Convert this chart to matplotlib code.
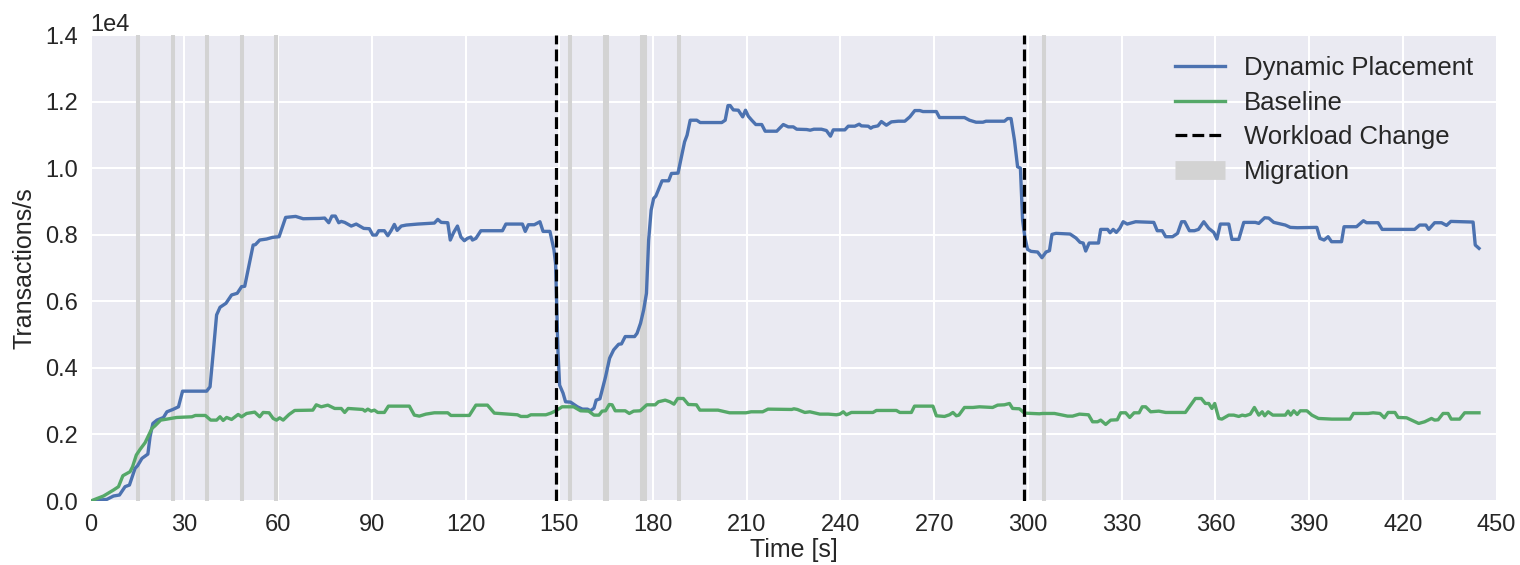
import matplotlib
matplotlib.use("Agg")
import matplotlib.pyplot as plt
from matplotlib.lines import Line2D

# ---------------- data ----------------
dyn_t = [0, 2, 5.2, 7.3, 9.2, 11.0, 12.4, 14.2, 15, 16.4, 18.3, 19.0, 19.9, 21.2, 23.3, 24.4, 26.3, 28.1,
         29.4, 37.1, 38.2, 39.3, 40.3, 41.4, 43.3, 45.1, 46.9, 48.3, 49.3, 52.0, 52.7, 54.1, 56.3, 58.2,
         60.3, 62.4, 65.6, 68.0, 73.3, 74.9, 76.2, 77.2, 78.3, 79.4, 80.2, 81.3, 83.4, 85.0, 86.1, 87.4,
         89.2, 90.3, 91.4, 92.2, 94.0, 95.1, 96.2, 97.2, 98.1, 99.4, 101.0, 104.7, 110.0, 111.1, 112.2,
         114.3, 115.1, 116.2, 117.4, 118.5, 119.6, 120.6, 121.7, 122.2, 123.3, 124.9, 131.8, 132.9, 138.2,
         139.1, 140.1, 142.0, 143.8, 144.8, 147.0, 148.3, 148.8, 149.6, 150.1, 151.2, 152.0, 153.6, 155.8,
         157.4, 159.0, 160.0, 161.1, 161.8, 163.0, 164.8, 166.1, 167.4, 169.0, 169.9, 171.1, 174.1, 174.9,
         176.0, 177.0, 177.9, 178.6, 179.4, 180.2, 180.9, 182.9, 185.0, 185.9, 188.0, 189.3, 190.1, 190.9,
         191.9, 194.0, 195.1, 202.0, 203.1, 204.0, 204.7, 205.7, 207.3, 208.7, 209.6, 210.5, 211.6, 212.9,
         214.8, 215.9, 219.6, 221.7, 223.3, 224.9, 226.0, 229.2, 230.3, 231.5, 233.9, 235.5, 236.8, 237.7,
         241.4, 242.5, 244.6, 246.0, 246.7, 248.9, 249.7, 250.4, 252.0, 253.1, 254.7, 256.3, 258.5, 260.6,
         262.2, 263.8, 265.4, 266.4, 270.7, 271.7, 279.7, 281.3, 283.4, 285.6, 286.6, 292.5, 293.5, 294.6,
         295.7, 296.7, 297.6, 298.3, 299.0, 299.9, 301.0, 303.1, 304.5, 305.8, 306.9, 307.7, 309.0, 313.5,
         315.4, 316.7, 317.7, 318.5, 319.6, 322.6, 323.3, 325.5, 326.3, 327.3, 328.3, 329.4, 330.5, 331.8,
         334.5, 340.3, 341.4, 343.0, 344.1, 346.3, 347.9, 349.2, 350.2, 351.7, 353.3, 354.6, 356.3, 357.9,
         359.5, 360.5, 361.6, 364.3, 365.3, 367.5, 369.1, 372.8, 373.9, 375.8, 377.1, 378.7, 382.4, 384.0,
         386.2, 392.5, 393.5, 394.8, 396.1, 397.2, 400.4, 401.2, 405.2, 407.4, 408.4, 412.1, 413.4, 423.8,
         425.4, 427.4, 428.3, 430.2, 432.4, 434.0, 435.4, 442.5, 443.2, 444.4]
dyn_v = [0, 20, 50, 150, 180, 430, 480, 980, 1060, 1280, 1410, 1930, 2330, 2430, 2510, 2680, 2750, 2830,
         3300, 3300, 3430, 4540, 5590, 5820, 5940, 6190, 6240, 6440, 6450, 7690, 7700, 7840, 7870, 7920,
         7940, 8520, 8550, 8480, 8490, 8500, 8360, 8560, 8560, 8360, 8400, 8370, 8260, 8320, 8260, 8190,
         8180, 7990, 7990, 8120, 8120, 7970, 8130, 8310, 8130, 8260, 8290, 8320, 8350, 8460, 8370,
         8360, 7840, 8070, 8260, 7930, 7820, 7890, 7930, 7840, 7890, 8120, 8120, 8320, 8320,
         8100, 8300, 8300, 8390, 8100, 8100, 7540, 7140, 4440, 3480, 3240, 2980, 2970, 2830,
         2760, 2760, 2710, 2790, 3030, 3070, 3730, 4290, 4540, 4710, 4720, 4940, 4940, 5040,
         5340, 5740, 6240, 7840, 8740, 9090, 9160, 9620, 9620, 9840, 9850, 10440, 10790, 10990,
         11440, 11440, 11370, 11370, 11440, 11880, 11880, 11750, 11740, 11540, 11740, 11560, 11440, 11310,
         11310, 11110, 11110, 11310, 11240, 11240, 11170, 11160, 11140, 11170, 11170, 11130, 10960, 11150,
         11150, 11260, 11260, 11320, 11270, 11260, 11200, 11240, 11270, 11400, 11290, 11390, 11410, 11410,
         11540, 11730, 11730, 11700, 11700, 11520, 11520, 11440, 11380, 11380, 11410, 11410, 11490, 11490,
         10840, 10040, 10000, 8440, 7940, 7560, 7500, 7480, 7310, 7480, 7520, 8010, 8040, 8020,
         7900, 7770, 7750, 7510, 7750, 7750, 8160, 8160, 8060, 8160, 8070, 8190, 8390, 8320,
         8390, 8370, 8120, 8120, 7940, 7940, 8040, 8390, 8390, 8120, 8120, 8160, 8390, 8190,
         8070, 7870, 8320, 8320, 7860, 7860, 8370, 8370, 8340, 8510, 8500, 8370, 8290, 8220,
         8210, 8220, 7890, 7840, 7940, 7790, 7790, 8240, 8240, 8420, 8360, 8360, 8160, 8160,
         8290, 8290, 8160, 8360, 8360, 8280, 8400, 8380, 7690, 7590]

base_t = [0, 4.1, 7.3, 8.9, 10.3, 12.6, 13.4, 14.6, 15.8, 17.4, 19.6, 20.6, 22.4, 24.4, 27.5, 32.4, 33.5,
          36.7, 38.4, 40.3, 41.4, 42.4, 43.5, 45.1, 47.2, 48.3, 49.9, 52.5, 54.1, 55.2, 57.1, 58.4, 59.5,
          60.5, 61.6, 63.5, 65.3, 71.1, 72.2, 73.8, 75.9, 78.1, 80.2, 81.3, 82.4, 87.1, 87.8, 88.7, 89.8,
          90.8, 91.9, 94.0, 95.3, 102.0, 103.6, 105.2, 107.3, 110.0, 114.3, 115.3, 121.2, 123.3, 127.0,
          129.2, 133.4, 136.6, 137.7, 139.8, 140.9, 145.7, 147.3, 148.9, 150.9, 154.6, 156.8, 159.4, 161.1,
          162.7, 163.7, 164.8, 166.0, 166.9, 167.9, 171.1, 172.4, 173.8, 175.9, 178.0, 180.7, 181.7, 183.9,
          185.4, 186.7, 187.9, 189.7, 191.3, 193.9, 195.0, 200.8, 204.5, 209.8, 211.4, 215.1, 216.8, 224.4,
          225.1, 226.2, 228.6, 230.2, 233.4, 236.1, 238.7, 239.8, 240.9, 241.9, 243.5, 250.4, 251.5, 257.9,
          259.0, 262.7, 263.7, 269.6, 270.7, 273.3, 274.9, 276.0, 277.1, 277.9, 279.7, 282.4, 284.5, 288.7,
          290.3, 292.5, 294.1, 295.1, 297.3, 298.9, 303.7, 304.7, 308.5, 310.6, 312.7, 314.3, 316.5, 319.4,
          320.7, 322.3, 323.3, 324.9, 326.5, 328.6, 329.7, 331.3, 332.6, 334.0, 335.6, 336.6, 337.7, 339.3,
          341.9, 344.1, 350.4, 352.0, 353.6, 355.5, 356.8, 357.9, 358.9, 359.8, 361.1, 362.1, 364.3, 365.9,
          367.5, 368.6, 369.6, 371.2, 372.5, 373.9, 375.0, 375.8, 376.9, 378.4, 382.4, 383.3, 384.1, 385.1,
          386.2, 387.2, 389.3, 390.9, 393.0, 397.3, 403.1, 404.2, 408.9, 410.5, 412.7, 414.1, 415.3, 417.5,
          418.5, 421.2, 422.8, 425.1, 427.0, 429.2, 430.2, 431.3, 432.9, 434.5, 435.5, 438.2, 439.8, 444.4]
base_v = [0, 150, 330, 430, 760, 880, 1030, 1380, 1550, 1750, 2180, 2260, 2430, 2460, 2510, 2530, 2570,
          2570, 2430, 2430, 2530, 2420, 2510, 2450, 2600, 2530, 2630, 2670, 2530, 2660, 2650, 2480, 2430,
          2500, 2430, 2600, 2720, 2730, 2890, 2830, 2880, 2780, 2780, 2660, 2780, 2750, 2700, 2760, 2700,
          2730, 2660, 2660, 2850, 2850, 2580, 2550, 2610, 2650, 2650, 2570, 2570, 2880, 2880,
          2640, 2610, 2590, 2540, 2540, 2590, 2590, 2640, 2710, 2830, 2830, 2710, 2700, 2580,
          2580, 2700, 2710, 2900, 2890, 2710, 2710, 2630, 2700, 2710, 2890, 2890, 2980, 3030,
          2980, 2910, 3080, 3080, 2900, 2890, 2730, 2730, 2650, 2650, 2680, 2680, 2760, 2750,
          2770, 2750, 2660, 2680, 2610, 2610, 2590, 2610, 2680, 2590, 2660, 2660, 2720, 2720,
          2660, 2660, 2850, 2850, 2560, 2540, 2590, 2660, 2560, 2580, 2810, 2810, 2830, 2810,
          2880, 2890, 2930, 2780, 2770, 2640, 2620, 2630, 2630, 2590, 2550, 2550, 2610, 2590,
          2380, 2380, 2430, 2300, 2430, 2440, 2650, 2650, 2510, 2650, 2650, 2830, 2830, 2680,
          2700, 2660, 2660, 2870, 3080, 3080, 2930, 2930, 2780, 2930, 2480, 2460, 2580, 2580,
          2540, 2580, 2560, 2610, 2810, 2580, 2680, 2560, 2680, 2580, 2580, 2700, 2580, 2710,
          2600, 2710, 2710, 2580, 2480, 2460, 2460, 2630, 2630, 2650, 2630, 2500, 2660, 2660,
          2510, 2500, 2430, 2330, 2380, 2480, 2430, 2440, 2630, 2630, 2460, 2460, 2650, 2650]

workload_changes = [148.8, 298.9]
migrations = [15.3, 26.3, 37.3, 48.3, 59.3, 153.4, 164.6, 165.4, 176.6, 177.4, 188.3, 305.3]

x_ticks = list(range(0, 451, 30))
y_ticks = [0, 2000, 4000, 6000, 8000, 10000, 12000, 14000]

labels = ["Dynamic Placement", "Baseline", "Workload Change", "Migration"]

# ---------------- style ----------------
plt.rcParams["font.family"] = ["Liberation Sans", "DejaVu Sans"]
plt.rcParams["text.color"] = "0.15"
plt.rcParams["axes.labelcolor"] = "0.15"
plt.rcParams["xtick.color"] = "0.15"
plt.rcParams["ytick.color"] = "0.15"

BLUE = "#4C72B0"
GREEN = "#55A868"
MIG = "#D3D3D3"

fig = plt.figure(figsize=(15.2, 5.65), dpi=100)
ax = fig.add_axes([90.7 / 1520, 64 / 565, (1496.5 - 90.7) / 1520, 466 / 565])
ax.set_facecolor("#EAEAF2")
for s in ax.spines.values():
    s.set_visible(False)
ax.grid(True, color="white", linewidth=1.5, zorder=0)
ax.set_axisbelow(True)

for m in migrations:
    ax.axvline(m, color=MIG, linewidth=2.9, zorder=1)

ax.plot(dyn_t, dyn_v, color=BLUE, linewidth=2.4, zorder=3)
ax.plot(base_t, base_v, color=GREEN, linewidth=2.4, zorder=3)

for w in workload_changes:
    ax.axvline(w, color="black", linestyle="--", linewidth=2.3, zorder=4)

ax.set_xlim(0, 450)
ax.set_ylim(0, 14000)
ax.set_xticks(x_ticks)
ax.set_yticks(y_ticks)
ax.ticklabel_format(style="sci", axis="y", scilimits=(0, 0))
ax.tick_params(axis="both", length=0, labelsize=17, pad=9.5)
ax.yaxis.get_offset_text().set_fontsize(17)

ax.set_xlabel("Time [s]", fontsize=18, labelpad=1)
ax.set_ylabel("Transactions/s", fontsize=18, labelpad=6)

handles = [
    Line2D([0], [0], color=BLUE, linewidth=2.4),
    Line2D([0], [0], color=GREEN, linewidth=2.4),
    Line2D([0], [0], color="black", linestyle="--", linewidth=2.3),
    Line2D([0], [0], color=MIG, linewidth=13.5, solid_capstyle="butt"),
]
ax.legend(handles, labels, loc="upper right", frameon=False, fontsize=18.5,
          handlelength=1.95, handletextpad=0.75, labelspacing=0.42,
          bbox_to_anchor=(1.0, 1.005))

fig.savefig("out.png", dpi=100)
